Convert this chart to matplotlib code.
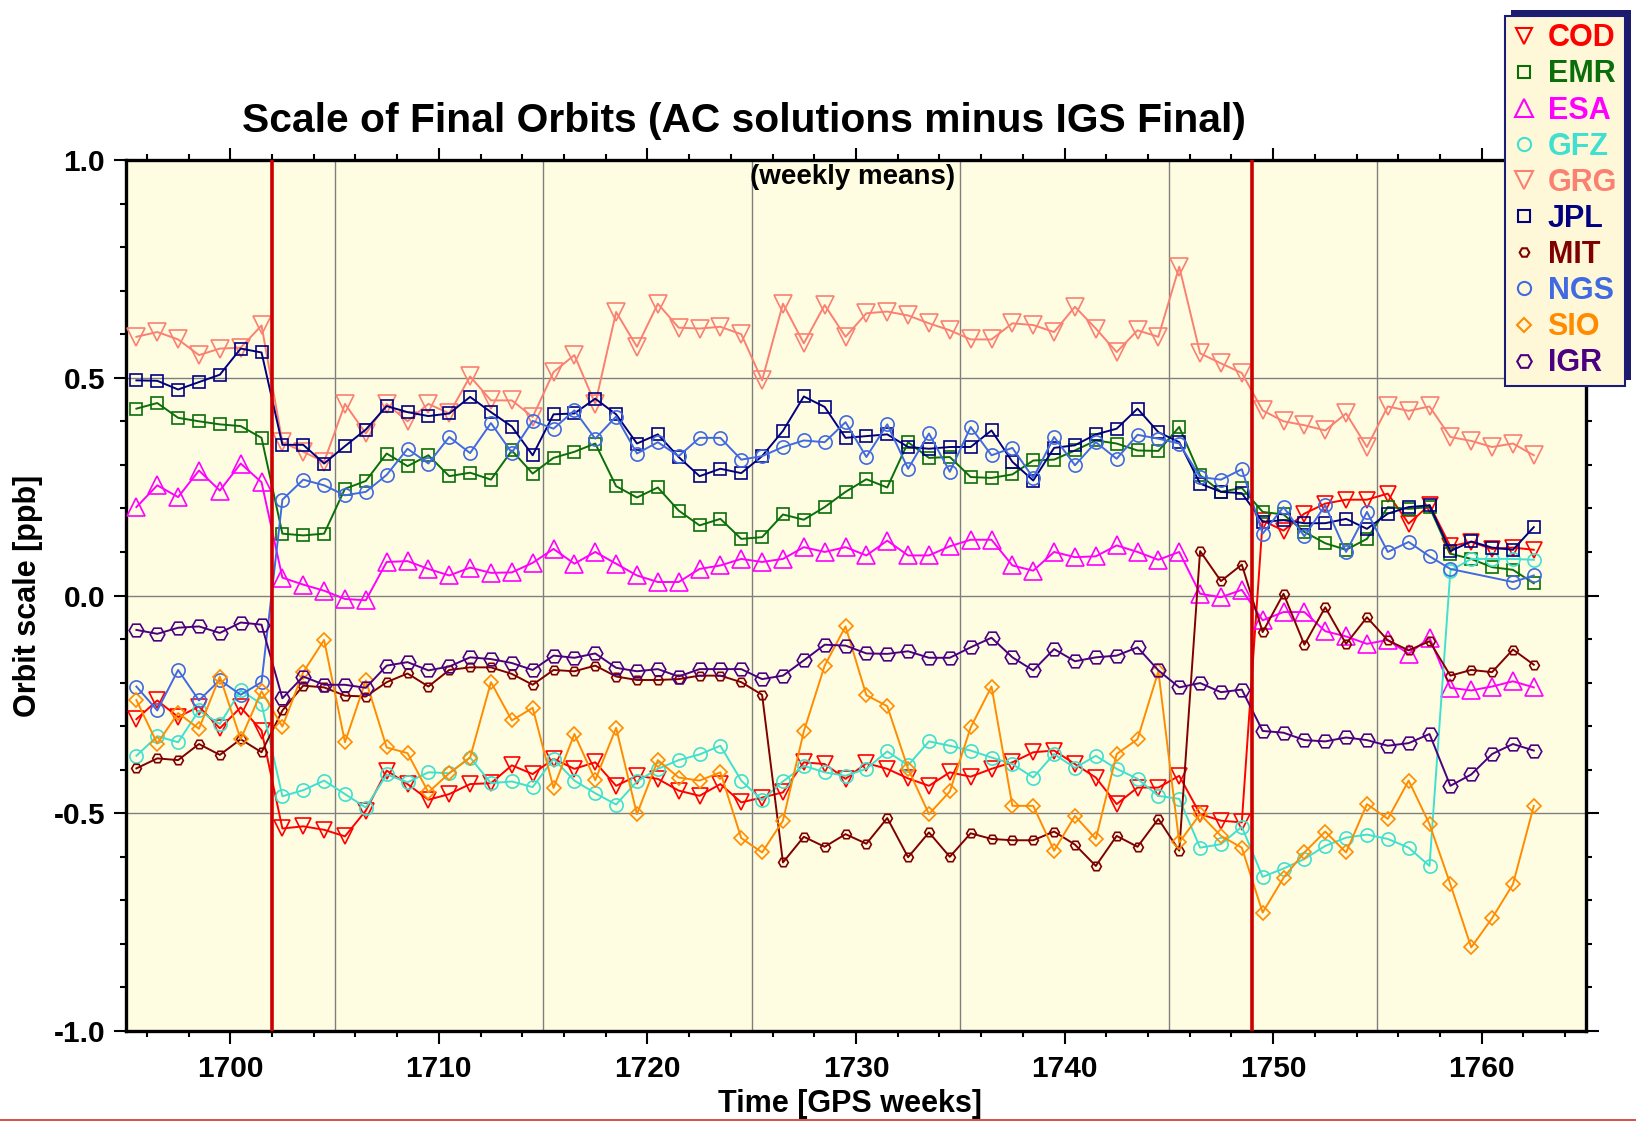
import numpy as np
import matplotlib
matplotlib.use("Agg")
import matplotlib.pyplot as plt
from matplotlib.lines import Line2D
from matplotlib.patches import Rectangle
from matplotlib.ticker import MultipleLocator, FormatStrFormatter

# --- data: weekly means, one value per GPS week (mid-week) ---
weeks = np.arange(1695.5, 1763.0, 1.0)

cod = [-0.284, -0.241, -0.279, -0.255, -0.305, -0.257, -0.310, -0.535, -0.530, -0.538,
       -0.553, -0.494, -0.402, -0.433, -0.469, -0.456, -0.433, -0.431, -0.390, -0.410,
       -0.375, -0.398, -0.383, -0.437, -0.414, -0.421, -0.448, -0.460, -0.433, -0.475,
       -0.464, -0.452, -0.383, -0.387, -0.421, -0.385, -0.398, -0.420, -0.437, -0.406,
       -0.416, -0.398, -0.383, -0.360, -0.356, -0.387, -0.418, -0.479, -0.441, -0.441,
       -0.414, -0.502, -0.517, -0.521, 0.172, 0.149, 0.188, 0.211, 0.220, 0.220,
       0.234, 0.165, 0.208, 0.113, 0.123, 0.107, 0.110, 0.105]
emr = [0.429, 0.442, 0.408, 0.400, 0.393, 0.389, 0.362, 0.142, 0.138, 0.142,
       0.245, 0.263, 0.326, 0.297, 0.322, 0.274, 0.282, 0.266, 0.333, 0.280,
       0.316, 0.330, 0.349, 0.251, 0.225, 0.248, 0.195, 0.161, 0.176, 0.130,
       0.134, 0.186, 0.174, 0.203, 0.238, 0.267, 0.248, 0.352, 0.316, 0.318,
       0.272, 0.270, 0.278, 0.310, 0.312, 0.333, 0.356, 0.349, 0.333, 0.332,
       0.387, 0.276, 0.238, 0.247, 0.192, 0.186, 0.146, 0.120, 0.105, 0.130,
       0.203, 0.199, 0.203, 0.096, 0.084, 0.065, 0.059, 0.028]
esa = [0.203, 0.253, 0.226, 0.287, 0.241, 0.303, 0.260, 0.041, 0.025, 0.011,
       -0.008, -0.011, 0.077, 0.079, 0.061, 0.046, 0.064, 0.052, 0.053, 0.075,
       0.107, 0.073, 0.100, 0.073, 0.046, 0.031, 0.031, 0.061, 0.069, 0.084,
       0.077, 0.084, 0.111, 0.100, 0.111, 0.092, 0.126, 0.092, 0.092, 0.113,
       0.128, 0.128, 0.069, 0.057, 0.100, 0.088, 0.090, 0.115, 0.100, 0.082,
       0.100, 0.004, -0.004, 0.013, -0.057, -0.038, -0.038, -0.082, -0.094, -0.111,
       -0.102, -0.134, -0.097, -0.212, -0.218, -0.209, -0.197, -0.211]
gfz = [-0.368, -0.323, -0.337, -0.264, -0.295, -0.218, -0.249, -0.461, -0.447, -0.425,
       -0.456, -0.487, -0.411, -0.429, -0.406, -0.408, -0.372, -0.431, -0.427, -0.440,
       -0.375, -0.425, -0.454, -0.480, -0.427, -0.398, -0.378, -0.365, -0.345, -0.425,
       -0.470, -0.427, -0.391, -0.406, -0.414, -0.398, -0.358, -0.390, -0.335, -0.345,
       -0.356, -0.372, -0.387, -0.418, -0.364, -0.396, -0.368, -0.398, -0.421, -0.460,
       -0.467, -0.579, -0.571, -0.531, -0.646, -0.627, -0.605, -0.575, -0.556, -0.549,
       -0.559, -0.579, -0.621, 0.057, 0.084, 0.084, 0.084, 0.082]
grg = [0.594, 0.605, 0.588, 0.552, 0.567, 0.569, 0.620, 0.352, 0.330, 0.307,
       0.440, 0.372, 0.440, 0.400, 0.440, 0.418, 0.503, 0.448, 0.448, 0.410,
       0.513, 0.552, 0.440, 0.651, 0.571, 0.670, 0.615, 0.613, 0.617, 0.600,
       0.494, 0.670, 0.579, 0.667, 0.594, 0.648, 0.652, 0.643, 0.625, 0.609,
       0.588, 0.588, 0.625, 0.621, 0.605, 0.663, 0.613, 0.559, 0.609, 0.594,
       0.755, 0.556, 0.533, 0.511, 0.425, 0.400, 0.391, 0.379, 0.418, 0.341,
       0.434, 0.424, 0.434, 0.364, 0.355, 0.341, 0.349, 0.322]
jpl = [0.494, 0.493, 0.473, 0.490, 0.507, 0.567, 0.558, 0.346, 0.346, 0.303,
       0.343, 0.381, 0.435, 0.421, 0.412, 0.418, 0.456, 0.421, 0.388, 0.322,
       0.416, 0.418, 0.452, 0.416, 0.349, 0.370, 0.318, 0.274, 0.291, 0.281,
       0.320, 0.378, 0.457, 0.433, 0.362, 0.366, 0.370, 0.341, 0.337, 0.341,
       0.341, 0.379, 0.307, 0.264, 0.339, 0.345, 0.370, 0.383, 0.429, 0.375,
       0.352, 0.257, 0.238, 0.235, 0.169, 0.173, 0.166, 0.166, 0.176, 0.153,
       0.188, 0.203, 0.207, 0.102, 0.124, 0.110, 0.105, 0.157]
mit = [-0.397, -0.374, -0.378, -0.341, -0.366, -0.330, -0.360, -0.264, -0.207, -0.211,
       -0.230, -0.232, -0.199, -0.179, -0.209, -0.171, -0.165, -0.165, -0.180, -0.205,
       -0.171, -0.174, -0.161, -0.186, -0.194, -0.194, -0.192, -0.184, -0.184, -0.199,
       -0.228, -0.613, -0.554, -0.577, -0.548, -0.570, -0.511, -0.601, -0.544, -0.600,
       -0.546, -0.559, -0.562, -0.562, -0.542, -0.572, -0.621, -0.552, -0.577, -0.513,
       -0.586, 0.102, 0.033, 0.071, -0.084, 0.004, -0.113, -0.027, -0.111, -0.050,
       -0.103, -0.126, -0.105, -0.184, -0.171, -0.176, -0.124, -0.159]
ngs = [-0.209, -0.264, -0.171, -0.241, -0.194, -0.228, -0.199, 0.220, 0.266, 0.253,
       0.230, 0.238, 0.277, 0.337, 0.303, 0.364, 0.327, 0.396, 0.328, 0.401,
       0.383, 0.425, 0.360, 0.411, 0.326, 0.352, 0.320, 0.362, 0.362, 0.312,
       0.320, 0.341, 0.356, 0.352, 0.398, 0.318, 0.393, 0.291, 0.372, 0.284,
       0.387, 0.322, 0.339, 0.270, 0.364, 0.299, 0.352, 0.314, 0.369, 0.360,
       0.349, 0.272, 0.266, 0.290, 0.142, 0.203, 0.136, 0.207, 0.100, 0.192,
       0.100, 0.123, 0.090, 0.061, np.nan, np.nan, 0.031, 0.046]
sio = [-0.240, -0.340, -0.270, -0.306, -0.186, -0.330, -0.220, -0.301, -0.176, -0.102,
       -0.337, -0.195, -0.349, -0.362, -0.452, -0.408, -0.372, -0.199, -0.287, -0.258,
       -0.442, -0.318, -0.424, -0.304, -0.502, -0.378, -0.418, -0.425, -0.406, -0.557,
       -0.590, -0.517, -0.312, -0.161, -0.071, -0.229, -0.254, -0.398, -0.502, -0.450,
       -0.303, -0.209, -0.483, -0.483, -0.586, -0.506, -0.559, -0.364, -0.330, -0.174,
       -0.567, -0.502, -0.552, -0.579, -0.728, -0.648, -0.590, -0.542, -0.590, -0.479,
       -0.513, -0.425, -0.525, -0.663, -0.808, -0.741, -0.663, -0.483]
igr = [-0.079, -0.088, -0.074, -0.071, -0.086, -0.062, -0.067, -0.236, -0.186, -0.205,
       -0.205, -0.212, -0.161, -0.153, -0.172, -0.163, -0.142, -0.146, -0.155, -0.171,
       -0.138, -0.143, -0.133, -0.166, -0.174, -0.169, -0.186, -0.169, -0.169, -0.169,
       -0.192, -0.184, -0.149, -0.113, -0.115, -0.133, -0.134, -0.128, -0.143, -0.143,
       -0.119, -0.097, -0.142, -0.172, -0.123, -0.151, -0.142, -0.138, -0.119, -0.172,
       -0.211, -0.201, -0.222, -0.216, -0.311, -0.315, -0.332, -0.335, -0.326, -0.332,
       -0.345, -0.339, -0.318, -0.437, -0.411, -0.364, -0.341, -0.356]

names = ['COD', 'EMR', 'ESA', 'GFZ', 'GRG', 'JPL', 'MIT', 'NGS', 'SIO', 'IGR']
series = [cod, emr, esa, gfz, grg, jpl, mit, ngs, sio, igr]

# weeks marked with red vertical lines (model changes)
change_weeks = [1702, 1749]
grid_weeks = [1705, 1715, 1725, 1735, 1745, 1755]
grid_levels = [0.5, 0.0, -0.5]

# --- style per series: colour, marker, marker size ---
estilos = {
    'COD': ('#ff0000', 'v', 12),
    'EMR': ('#0a6e0a', 's', 8.5),
    'ESA': ('#ff00ff', '^', 13),
    'GFZ': ('#40e0d0', 'o', 9.5),
    'GRG': ('#fa8072', 'v', 13),
    'JPL': ('#000080', 's', 8.5),
    'MIT': ('#7f0000', 'H', 7),
    'NGS': ('#4169e1', 'o', 9.5),
    'SIO': ('#ff8c00', 'D', 7.5),
    'IGR': ('#4b0082', 'H', 10.5),
}

plt.rcParams['font.family'] = ['Liberation Sans', 'DejaVu Sans']
plt.rcParams['font.weight'] = 'bold'
plt.rcParams['axes.unicode_minus'] = False

fig = plt.figure(figsize=(16.36, 11.22), dpi=100)
ax = fig.add_axes([0.077, 0.0811, 0.8924, 0.7763])
ax.set_facecolor('#fffde1')

# grid lines and the two red marker lines
for w in grid_weeks:
    ax.axvline(w, color='#7f7f7f', lw=1.0, zorder=1)
for g in grid_levels:
    ax.axhline(g, color='#7f7f7f', lw=1.0, zorder=1)
for w in change_weeks:
    ax.axvline(w, color='#cc0000', lw=2.6, zorder=4)

for nome, valores in zip(names, series):
    cor, marcador, tam = estilos[nome]
    y = np.array(valores, dtype=float)
    ok = ~np.isnan(y)
    ax.plot(weeks[ok], y[ok], color=cor, lw=1.4, marker=marcador, ms=tam,
            mfc='none', mec=cor, mew=1.2, zorder=3)

ax.set_xlim(1695, 1765)
ax.set_ylim(-1.0, 1.0)

ax.xaxis.set_major_locator(MultipleLocator(10))
ax.xaxis.set_minor_locator(MultipleLocator(2))
ax.yaxis.set_major_locator(MultipleLocator(0.5))
ax.yaxis.set_minor_locator(MultipleLocator(0.1))
ax.yaxis.set_major_formatter(FormatStrFormatter('%.1f'))

ax.tick_params(which='both', direction='out', top=True, right=True, width=1.5)
ax.tick_params(which='major', length=9, labelsize=21.5, pad=6)
ax.tick_params(which='minor', length=4.5)
ax.tick_params(axis='x', which='major', pad=8)
for lado in ax.spines.values():
    lado.set_linewidth(2.4)

ax.set_xlabel('Time [GPS weeks]', fontsize=22, fontweight='bold', va='center')
ax.xaxis.set_label_coords(0.496, -0.0838)
ax.set_ylabel('Orbit scale [ppb]', fontsize=22, fontweight='bold', va='center')
ax.yaxis.set_label_coords(-0.067, 0.5)

ax.text(0.498, 0.9805, '(weekly means)', transform=ax.transAxes, ha='center',
        va='center', fontsize=20, fontweight='bold')

fig.text(0.455, 0.892, 'Scale of Final Orbits (AC solutions minus IGS Final)',
         ha='center', va='center', fontsize=29.3, fontweight='bold')

# --- legenda ---
handles = []
for nome in names:
    cor, marcador, tam = estilos[nome]
    handles.append(Line2D([], [], ls='none', marker=marcador, ms=tam,
                          mfc='none', mec=cor, mew=1.5))
leg = fig.legend(handles, names, loc='upper right', bbox_to_anchor=(0.993, 0.986),
                 prop={'weight': 'bold', 'size': 22},
                 frameon=True, fancybox=False, framealpha=1,
                 facecolor='#fff8d8', edgecolor='#1c1c78',
                 handlelength=0.75, handletextpad=0.38, borderpad=0.25,
                 labelspacing=0.2, borderaxespad=0)
leg.get_frame().set_linewidth(1.5)
for txt, nome in zip(leg.get_texts(), names):
    txt.set_color(estilos[nome][0])

# sombra da legenda (deslocada para cima e para a direita)
fig.canvas.draw()
bb = leg.get_window_extent().transformed(fig.transFigure.inverted())
dx = 6 / fig.bbox.width
dy = 6 / fig.bbox.height
sombra = Rectangle((bb.x0 + dx, bb.y0 + dy), bb.width, bb.height,
                   transform=fig.transFigure, facecolor='#1c1c6e',
                   edgecolor='none', zorder=4)
fig.add_artist(sombra)

# thin red line along the bottom edge
fig.add_artist(Line2D([0, 1], [0.0015, 0.0015], transform=fig.transFigure,
                      color='#d03030', lw=1.2))

fig.savefig('out.png', dpi=100)
